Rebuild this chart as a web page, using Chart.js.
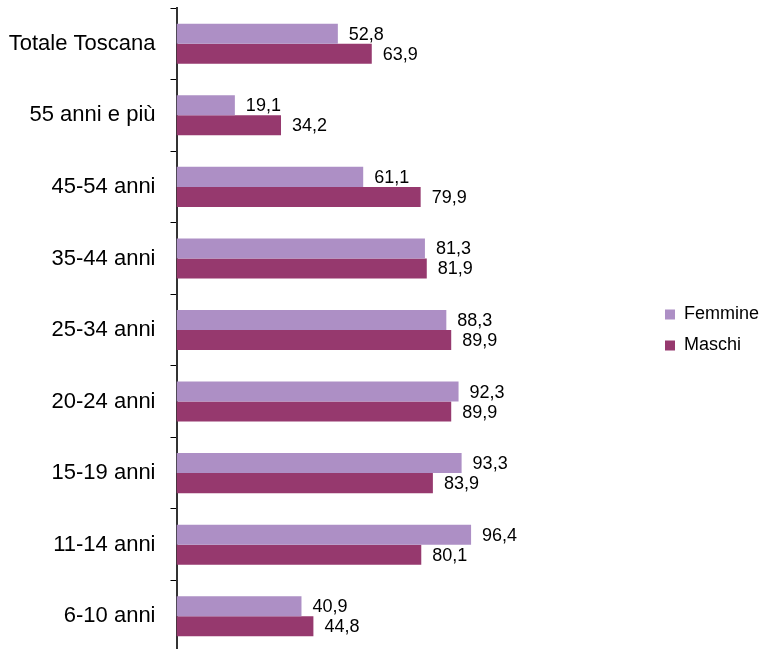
<!DOCTYPE html>
<html>
<head>
<meta charset="utf-8">
<script src="https://cdn.jsdelivr.net/npm/chart.js@4"></script>
<style>
  html, body { margin: 0; padding: 0; background: #fff; overflow: hidden; }
  #wrap { width: 770px; height: 660px; }
</style>
</head>
<body>
<div id="wrap"><canvas id="c" width="770" height="660"></canvas></div>
<script>
const categories = ['Totale Toscana', '55 anni e più', '45-54 anni', '35-44 anni', '25-34 anni', '20-24 anni', '15-19 anni', '11-14 anni', '6-10 anni'];
const femmine = [52.8, 19.1, 61.1, 81.3, 88.3, 92.3, 93.3, 96.4, 40.9];
const maschi = [63.9, 34.2, 79.9, 81.9, 89.9, 89.9, 83.9, 80.1, 44.8];
const seriesNames = ['Femmine', 'Maschi'];

const FONT = "'Liberation Sans', Arial, sans-serif";

const valueLabels = {
  id: 'valueLabels',
  afterDatasetsDraw(chart) {
    const ctx = chart.ctx;
    ctx.save();
    ctx.font = '18px ' + FONT;
    ctx.fillStyle = '#000';
    ctx.textAlign = 'left';
    ctx.textBaseline = 'middle';
    chart.data.datasets.forEach((ds, i) => {
      const meta = chart.getDatasetMeta(i);
      meta.data.forEach((el, j) => {
        const txt = ds.data[j].toFixed(1).replace('.', ',');
        ctx.fillText(txt, el.x + 11, el.y + 1);
      });
    });
    ctx.restore();
  }
};

new Chart(document.getElementById('c'), {
  type: 'bar',
  data: {
    labels: categories,
    datasets: [
      { label: seriesNames[0], data: femmine, backgroundColor: '#AD8FC5' },
      { label: seriesNames[1], data: maschi, backgroundColor: '#96396E' }
    ]
  },
  options: {
    indexAxis: 'y',
    responsive: false,
    animation: false,
    devicePixelRatio: 1,
    categoryPercentage: 0.56,
    barPercentage: 1.0,
    layout: { padding: { top: 8, bottom: 8, left: 0, right: 1 } },
    scales: {
      x: { display: false, min: 0, max: 155.6 },
      y: {
        afterFit(scale) {
          scale.width = 176.5;
          scale.paddingTop = 0;
          scale.paddingBottom = 0;
        },
        grid: { drawOnChartArea: false, drawTicks: true, tickLength: 6, color: '#000', offset: true },
        border: { display: true, color: '#333', width: 2 },
        ticks: { color: '#000', font: { family: FONT, size: 22 }, padding: 15 }
      }
    },
    plugins: {
      legend: {
        position: 'right',
        align: 'center',
        labels: {
          boxWidth: 10,
          boxHeight: 10,
          padding: 13,
          color: '#000',
          font: { family: FONT, size: 18 }
        }
      },
      tooltip: { enabled: false }
    }
  },
  plugins: [valueLabels]
});
</script>
</body>
</html>
